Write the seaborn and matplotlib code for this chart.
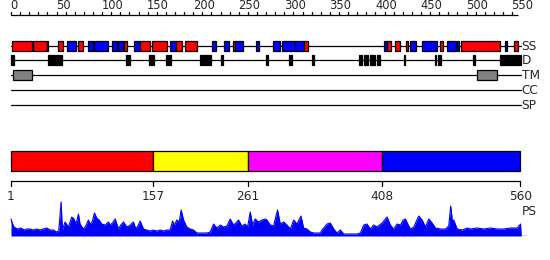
import matplotlib
matplotlib.use("Agg")
import matplotlib.pyplot as plt
from matplotlib.patches import Rectangle
import seaborn as sns
import pandas as pd

sns.set_style("white")
plt.rcParams['font.family'] = ['DejaVu Sans']

# ---------------- data ----------------
protein_length = 560
top_ticks = list(range(0, 551, 10))
top_labels = list(range(0, 551, 50))

# secondary structure (start, end, type) H = helix (red), E = strand (blue)
ss_start = [1, 24, 39, 52, 62, 74, 84, 91, 111, 118, 124, 135, 142, 155, 175, 181, 191,
            221, 234, 244, 246, 269, 288, 297, 312, 322, 409, 413, 421, 434, 438, 451,
            471, 479, 490, 494, 542, 552]
ss_end = [23, 39, 41, 57, 71, 79, 90, 106, 116, 123, 127, 142, 153, 171, 181, 188, 204,
          225, 239, 246, 255, 272, 295, 312, 322, 326, 413, 417, 427, 436, 445, 468,
          474, 488, 492, 537, 545, 557]
ss_type = ['H', 'H', 'E', 'H', 'E', 'H', 'E', 'E', 'E', 'E', 'H', 'E', 'H', 'H', 'E', 'H', 'H',
           'E', 'E', 'H', 'E', 'E', 'E', 'E', 'E', 'H', 'E', 'H', 'H', 'H', 'E', 'E',
           'H', 'E', 'E', 'H', 'E', 'H']

# disorder regions
d_start = [0, 41, 126, 151, 170, 207, 231, 280, 305, 330, 382, 388, 394, 402, 431, 465, 469, 507, 537]
d_end = [3, 56, 131, 157, 176, 219, 233, 282, 308, 333, 385, 392, 400, 405, 433, 467, 472, 509, 560]

# transmembrane
tm_start = [2, 512]
tm_end = [23, 534]

row_labels = ['SS', 'D', 'TM', 'CC', 'SP']

# domain partition
dom_bounds = [1, 157, 261, 408, 560]
dom_colors = ['#ff0000', '#ffff00', '#ff00ff', '#0000ff']

# profile (residue, score)
prof_res = [0, 1.8, 3.3, 7, 10.9, 14.6, 17.2, 20.9, 24.5, 28.2, 31.9, 35.5, 39.2, 42.9, 46.5,
            50.2, 52.4, 55, 56.4, 59.3, 63, 66.7, 69.2, 71.4, 74, 75.8, 79.5, 82, 85, 86.8,
            89, 91.6, 94.1, 96.7, 99.6, 103.3, 107, 108.8, 111.4, 114.3, 118, 120.5, 123.5,
            127.1, 130.8, 134.4, 136.3, 138.1, 141.8, 145.4, 149.1, 152.7, 156.4, 160, 163.7,
            167.4, 171, 174.7, 177.3, 179.5, 182, 184.6, 186.8, 189.4, 193, 196.7, 200.4, 204,
            207.7, 211.4, 215, 218.7, 222.3, 226, 229.7, 233.3, 237, 240.6, 244.3, 246.8,
            249.8, 253.5, 257, 259.7, 262.6, 265.2, 268, 271.8, 275.4, 279, 281, 284.6, 288.3,
            290, 292.6, 295.6, 299.3, 303, 306.6, 310.3, 313.9, 318.3, 321.2, 324.9, 328.6,
            332.2, 335.9, 339.6, 341.4, 346.9, 350.5, 354.2, 357.9, 361.5, 365.2, 368.9, 372.5,
            376.2, 379.9, 383.5, 387.2, 390.8, 394.5, 398.2, 401.8, 407.3, 412.8, 416.5, 420.1,
            423.8, 427.5, 430.4, 433, 435.5, 438.5, 442.1, 447.6, 451.3, 455, 458.6, 462.3,
            465.9, 471.4, 476.9, 480.5, 482.7, 484.6, 486, 489.7, 495.2, 500.7, 504.4, 511.7,
            519, 526.4, 533.7, 541, 548.4, 555.7, 559.3, 560]
prof_val = [17, 12, 9, 7, 8, 6, 7, 7, 6, 7, 6, 7, 8, 6, 6,
            4, 5, 34, 6, 14, 9, 19, 17, 12, 22, 12, 7, 10, 16, 12,
            14, 23, 18, 16, 12, 11, 14, 11, 13, 17, 7, 11, 14,
            9, 11, 14, 9, 8, 15, 7, 6, 5, 6, 5, 6,
            5, 6, 6, 15, 11, 16, 14, 26, 16, 9, 7, 6, 3,
            3, 3, 3, 4, 12, 8, 11, 9, 10, 17, 11, 13,
            16, 10, 12, 9, 24, 11, 17, 14, 16, 17, 16, 11, 10,
            17, 26, 12, 14, 11, 7, 16, 12, 20, 8, 7, 4,
            3, 3, 3, 6, 12, 13, 7, 3, 6, 2, 2, 2,
            2, 2, 3, 11, 12, 7, 11, 9, 13, 19, 11, 7,
            12, 11, 16, 17, 12, 7, 9, 20, 16, 9, 17, 13,
            8, 7, 7, 10, 30, 14, 16, 7, 6, 8, 7, 8,
            7, 8, 7, 7, 8, 8, 12, 0]

# ---------------- layout helpers ----------------
PX0, SCALE = 11.0, 0.911
xlim = (-PX0 / SCALE, (550 - PX0) / SCALE)

fig = plt.figure(figsize=(5.5, 2.6), dpi=100)
ax = fig.add_axes([0, 0, 1, 1])
ax.set_xlim(*xlim)
ax.set_ylim(260, 0)
ax.axis('off')

LW = 0.9
row_y = {'SS': 45.7, 'D': 60.3, 'TM': 75.3, 'CC': 90.2, 'SP': 105.3}
box_h = 10
line_end = 559.5

# top ruler
ax.plot([0, 556], [15, 15], color='black', lw=LW, solid_capstyle='butt')
for t in top_ticks:
    ax.plot([t, t], [15, 11.5], color='black', lw=LW)
for t in top_labels:
    ax.text(t - 0.5, 12.3, str(t), ha='left', va='bottom', fontsize=8.3)

# row lines and labels
for name in row_labels:
    y = row_y[name]
    ax.plot([0, line_end], [y, y], color='black', lw=LW, zorder=1)
    ax.text(line_end + 1, y + 0.5, name, ha='left', va='center', fontsize=8.7)

def draw_boxes(starts, ends, y, colors):
    for s, e, c in zip(starts, ends, colors):
        ax.add_patch(Rectangle((s, y - box_h / 2), e - s, box_h, facecolor=c,
                               edgecolor='black', lw=LW, zorder=3))

ss_colors = ['#ff0000' if t == 'H' else '#0000ff' for t in ss_type]
draw_boxes(ss_start, ss_end, row_y['SS'], ss_colors)
draw_boxes(d_start, d_end, row_y['D'], ['black'] * len(d_start))
draw_boxes(tm_start, tm_end, row_y['TM'], ['#808080'] * len(tm_start))

# domain bar
for i, c in enumerate(dom_colors):
    s, e = dom_bounds[i] - 1, dom_bounds[i + 1] - 1
    ax.add_patch(Rectangle((s, 151), e - s, 20, facecolor=c, edgecolor='black', lw=LW))

# bottom ruler
ax.plot([0, dom_bounds[-1] - 1], [181, 181], color='black', lw=LW)
for b in dom_bounds:
    ax.plot([b - 1, b - 1], [181, 185.5], color='black', lw=LW)
    ax.text(b - 1, 196, str(b), ha='center', va='center', fontsize=8.7)
ax.text(line_end + 1.5, 211.5, 'PS', ha='left', va='center', fontsize=8.7)

# profile
base_px = 236.0
top_px = 200.0
ax2 = fig.add_axes([0, (260 - base_px) / 260, 1, (base_px - top_px) / 260])
ax2.set_xlim(*xlim)
ax2.set_ylim(0, base_px - top_px)
ax2.axis('off')
ax2.patch.set_alpha(0)
df = pd.DataFrame({'res': prof_res, 'val': prof_val})
sns.lineplot(data=df, x='res', y='val', ax=ax2, color='#0000ff', lw=0.8)
ax2.fill_between(df['res'], 0, df['val'], color='#0000ff', lw=0)
ax2.plot([0, 565], [0.3, 0.3], color='#0000ff', lw=1)

fig.savefig('out.png', dpi=100)
